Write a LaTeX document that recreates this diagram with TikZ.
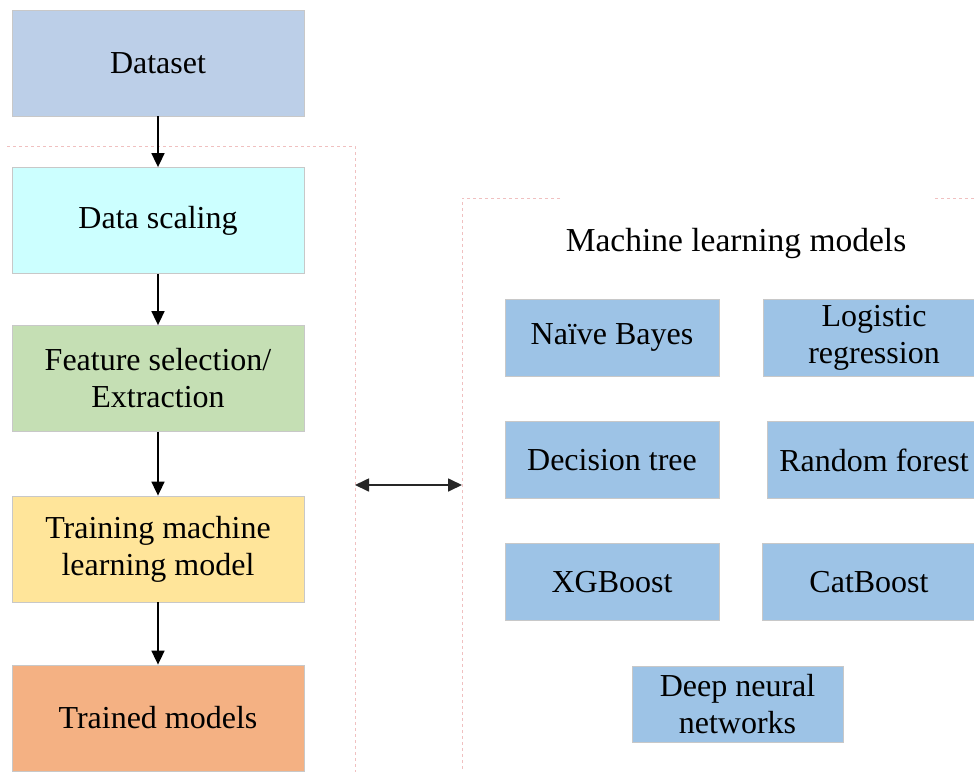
\documentclass[tikz,border=0pt]{standalone}
\usepackage{fontspec}
\setmainfont{Liberation Serif}
\usetikzlibrary{arrows.meta}

\definecolor{cData}{HTML}{BCCFE8}
\definecolor{cScale}{HTML}{CCFFFF}
\definecolor{cFeat}{HTML}{C5DFB4}
\definecolor{cTrain}{HTML}{FFE59A}
\definecolor{cDone}{HTML}{F4B183}
\definecolor{cModel}{HTML}{9DC3E6}
\definecolor{cEdge}{HTML}{C8C8C8}
\definecolor{cFrame}{HTML}{F0C0C0}

\tikzset{
  txt/.style={font=\fontsize{32}{37}\selectfont, align=center, inner sep=0pt},
  stagebox/.style={txt, rectangle, draw=cEdge, line width=0.8pt,
    minimum width=292pt, minimum height=106pt},
  modelbox/.style={txt, rectangle, draw=cEdge, line width=0.8pt, fill=cModel,
    minimum width=214pt, minimum height=77pt},
  tip/.style={Triangle[length=14pt,width=13pt]},
  flow/.style={line width=1.7pt, -{Triangle[length=14pt,width=13pt]}},
  link/.style={line width=1.7pt, {Triangle[length=14pt,width=13pt]}-{Triangle[length=14pt,width=13pt]}, black!85},
  frame/.style={draw=cFrame, line width=0.9pt, dash pattern=on 3pt off 3pt},
}

\begin{document}
\begin{tikzpicture}[x=1pt, y=-1pt]
  \useasboundingbox (0,0) rectangle (974,771);

  % dashed frames around the pipeline and the model group
  \draw[frame] (7,146) -- (355,146) -- (355,775);
  \draw[frame] (560,198) -- (462,198) -- (462,775);
  \draw[frame] (935,198) -- (980,198);
  \coordinate (pipeEdge) at (355,485);
  \coordinate (modelEdge) at (462,485);

  % processing pipeline
  \node[stagebox, fill=cData]  (dataset) at (158,63)    {Dataset};
  \node[stagebox, fill=cScale] (scale)   at (158,220.5) {Data scaling};
  \node[stagebox, fill=cFeat]  (feat)    at (158,378.5) {Feature selection/\\Extraction};
  \node[stagebox, fill=cTrain] (train)   at (158,549)   {Training machine\\learning model};
  \node[stagebox, fill=cDone]  (trained) at (158,718)   {Trained models};

  \draw[flow] (dataset) -- (scale);
  \draw[flow] (scale) -- (feat);
  \draw[flow] (feat) -- (train);
  \draw[flow] (train) -- (trained);

  % candidate models
  \node[txt, font=\fontsize{33.5}{38}\selectfont] (title) at (736,243) {Machine learning models};
  \node[modelbox] (nb)  at (612,337.5) {Na\"ive Bayes};
  \node[modelbox, minimum width=222pt] (lr)  at (874,337.5) {Logistic\\regression};
  \node[modelbox] (dt)  at (612,460) {Decision tree};
  \node[modelbox, minimum width=214pt] (rf)  at (874,460) {Random forest};
  \node[modelbox] (xgb) at (612,582) {XGBoost};
  \node[modelbox] (cat) at (869,582) {CatBoost};
  \node[modelbox, minimum width=211pt, minimum height=76pt] (dnn) at (737.5,704) {Deep neural\\networks};

  \draw[link] (pipeEdge) -- (modelEdge);
\end{tikzpicture}
\end{document}
